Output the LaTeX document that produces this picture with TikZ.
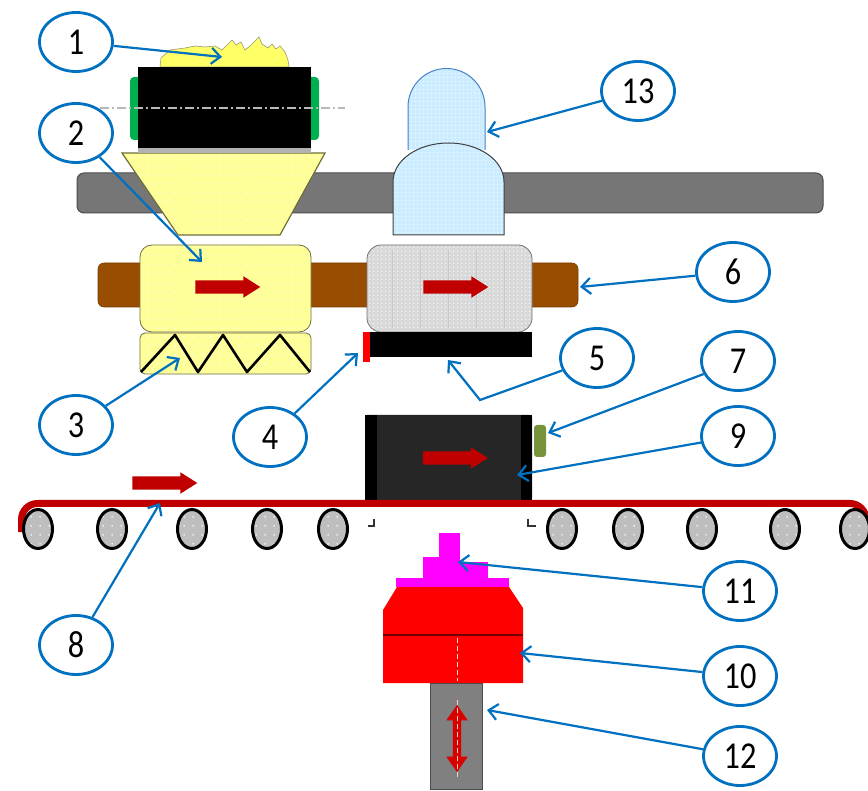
\documentclass[tikz,border=0pt]{standalone}
\usepackage{fontspec}
\newfontfamily\lblfont[FakeStretch=0.85]{Carlito}
\usetikzlibrary{shapes.geometric,shapes.arrows,arrows.meta,patterns}

% sparse and fine white dot textures
\pgfdeclarepatternformonly{sdots}{\pgfpointorigin}{\pgfqpoint{9pt}{9pt}}{\pgfqpoint{9pt}{9pt}}%
  {\pgfpathcircle{\pgfqpoint{4.5pt}{4.5pt}}{0.9pt}\pgfusepath{fill}}
\pgfdeclarepatternformonly{fdots}{\pgfpointorigin}{\pgfqpoint{3.5pt}{3.5pt}}{\pgfqpoint{3.5pt}{3.5pt}}%
  {\pgfpathcircle{\pgfqpoint{1.75pt}{1.75pt}}{0.6pt}\pgfusepath{fill}}

\definecolor{lblue}{RGB}{0,112,192}
\definecolor{pale}{RGB}{255,255,153}
\definecolor{powder}{RGB}{255,255,102}
\definecolor{olive}{RGB}{110,110,60}
\definecolor{railg}{RGB}{118,118,118}
\definecolor{shaft}{RGB}{153,77,0}
\definecolor{dred}{RGB}{192,0,0}
\definecolor{sky}{RGB}{204,236,255}
\definecolor{skyline}{RGB}{70,130,200}
\definecolor{lgray}{RGB}{217,217,217}
\definecolor{rollg}{RGB}{190,190,190}
\definecolor{capg}{RGB}{0,176,80}
\definecolor{tabg}{RGB}{119,147,60}
\definecolor{mag}{RGB}{255,0,255}
\definecolor{boxk}{RGB}{38,38,38}
\definecolor{rodg}{RGB}{128,128,128}

\tikzset{
  lbl/.style={ellipse, draw=lblue, line width=2.8pt, minimum width=73pt,
    minimum height=59pt, inner sep=0pt, text=black,
    font=\lblfont\fontsize{38}{40}\selectfont},
  lead/.style={draw=lblue, line width=2.2pt,
    -{Straight Barb[length=9pt,width=16pt]}},
  fatarrow/.style={single arrow, fill=dred, draw=none, inner xsep=0pt,
    inner ysep=6.5pt, single arrow head extend=4pt, single arrow tip angle=65,
    minimum height=65pt},
  roller/.style={ellipse, draw=black, line width=3pt, minimum width=29pt,
    minimum height=39pt, inner sep=0pt, preaction={fill=rollg},
    pattern=sdots, pattern color=white},
  yellowpart/.style={draw=olive, line width=0.8pt, preaction={fill=pale},
    pattern=sdots, pattern color=white},
  skypart/.style={line width=1pt, preaction={fill=sky},
    pattern=fdots, pattern color=white},
}

\begin{document}
\begin{tikzpicture}[x=1pt,y=-1pt]
\useasboundingbox[fill=white] (0,0) rectangle (868,791);

% ---- upper guide rail
\draw[draw=black!70, fill=railg, line width=1pt, rounded corners=7pt]
  (77,173) rectangle (823,213);

% ---- feed hopper
\draw[yellowpart, line width=1.2pt] (122,153) -- (325,153) -- (280,235) -- (178,235) -- cycle;

% ---- powder on top of the feed roller
\draw[draw=olive!70, fill=powder, line width=0.6pt]
  (160,67) -- (161,58) -- (170,50) -- (185,48) -- (195,46) -- (205,47) -- (215,46)
  -- (222,50) -- (228,44) -- (232,40) -- (236,45) -- (241,42) -- (245,50)
  -- (250,46) -- (255,41) -- (259,37) -- (262,44) -- (268,48) -- (272,44)
  -- (276,49) -- (280,46) -- (285,52) -- (288,60) -- (289,67) -- cycle;

% ---- feed roller with end caps
\fill[capg, rounded corners=4pt] (130,77) rectangle (142,140);
\fill[capg, rounded corners=4pt] (307,77) rectangle (319,140);
\fill[black] (138,67) rectangle (311,148);
\fill[gray!60] (138,148) rectangle (311,153);
\draw[gray!55, line width=1.2pt, dash pattern=on 9pt off 3pt on 2pt off 3pt]
  (100,108) -- (345,108);

% ---- transport shaft
\draw[draw=shaft!80!black, fill=shaft, line width=0.6pt, rounded corners=6pt]
  (98,263) rectangle (578,307);

% ---- filling shoe and its base
\draw[yellowpart, rounded corners=12pt] (140,245) rectangle (311,332);
\draw[yellowpart, rounded corners=5pt] (140,333) rectangle (311,374);
\draw[black, line width=2.6pt, line join=round]
  (141,372) -- (175,335) -- (198,372) -- (223,335) -- (247,372) -- (280,335) -- (310,372);

% ---- pressing shoe
\draw[draw=black!55, line width=0.8pt, preaction={fill=lgray}, pattern=fdots,
  pattern color=white, rounded corners=14pt] (367,245) rectangle (532,332);
\foreach \xx in {392,420,448,476,504}
  \draw[gray!45, line width=0.4pt] (\xx,250) -- (\xx,328);
\fill[black] (370,332) rectangle (532,357);
\fill[red] (363,332) rectangle (370,362);

% ---- upper punch (two domes)
\draw[skypart, draw=skyline]
  (408,150) -- (408,107) .. controls (408,85.7) and (425.2,68.5) .. (446.5,68.5)
  .. controls (467.8,68.5) and (485,85.7) .. (485,107) -- (485,150);
\draw[skypart, draw=black!75]
  (393,235) -- (393,182) .. controls (393,160) and (418,143) .. (448.5,143)
  .. controls (479,143) and (504,160) .. (504,182) -- (504,235) -- cycle;

% ---- direction arrows on the shoes
\node[fatarrow] (a2) at (222.5,287) {};
\node[fatarrow] (a6) at (450.5,287) {};

% ---- product carrier and its tab
\fill[boxk, rounded corners=2pt] (365,415) rectangle (532,500);
\fill[black] (365,415) rectangle (377,500);
\fill[black] (521,415) rectangle (532,500);
\node[fatarrow] (a9) at (450,458) {};
\fill[tabg, rounded corners=3pt] (534,425) rectangle (546,457);

% ---- conveyor belt, its direction and rollers
\node[fatarrow] (a8) at (159.5,483) {};
\draw[dred, line width=7pt, rounded corners=16pt]
  (21.5,532) -- (21.5,503.5) -- (866,503.5) -- (866,540);
\foreach \xx [count=\i] in {38,112,192,267,333,562,628,702,785,855}
  \node[roller] (r\i) at (\xx,529) {};
\draw[black!80, line width=1.2pt] (368,526) -- (374,526) -- (374,519);
\draw[black!80, line width=1.2pt] (528,519) -- (528,526) -- (536,526);

% ---- lower punch head
\fill[red] (397,587) -- (509,587) -- (523,608) -- (523,683) -- (383,683) -- (383,610) -- cycle;
\draw[red!45!black, line width=1.4pt] (383,635) -- (523,635);
\fill[mag] (396,578) rectangle (509,587);
\fill[mag] (439,533) rectangle (460,578);
\fill[mag] (423,557) rectangle (439,578);
\fill[mag] (460,562) rectangle (488,578);
\draw[white!85!red, line width=0.7pt, dash pattern=on 5pt off 3pt] (457,638) -- (457,681);

% ---- lifting rod
\draw[draw=black!70, fill=rodg, line width=1pt] (430,683) rectangle (482,789);
\node[double arrow, fill=red!85!black, draw=none, rotate=90, inner xsep=0pt,
  inner ysep=4pt, double arrow head extend=6.5pt, double arrow tip angle=70,
  minimum height=67pt] (lift) at (457,738.5) {};
\draw[white!80!red, line width=0.6pt, dash pattern=on 5pt off 3pt] (457,700) -- (457,778);

% ---- labels
\node[lbl] (e1)  at (76,42)   {1};
\node[lbl] (e2)  at (76,133)  {2};
\node[lbl] (e3)  at (76,425)  {3};
\node[lbl] (e4)  at (270,437) {4};
\node[lbl] (e5)  at (597,358) {5};
\node[lbl] (e6)  at (733,272) {6};
\node[lbl] (e7)  at (738,361) {7};
\node[lbl] (e8)  at (76,645)  {8};
\node[lbl] (e9)  at (738,436) {9};
\node[lbl] (e10) at (740,676) {10};
\node[lbl] (e11) at (740,591) {11};
\node[lbl] (e12) at (740,756) {12};
\node[lbl] (e13) at (638,91)  {13};

% ---- leader end points
\coordinate (t1)  at (222,57);
\coordinate (t2)  at (202,262);
\coordinate (t3)  at (180,358);
\coordinate (t4)  at (358,353);
\coordinate (k5)  at (480,400);
\coordinate (t5)  at (448,360);
\coordinate (t6)  at (580,287);
\coordinate (t7)  at (548,433);
\coordinate (t8)  at (160,503);
\coordinate (t9)  at (517,475);
\coordinate (t10) at (520,653);
\coordinate (t11) at (458,562);
\coordinate (t12) at (487,710);
\coordinate (t13) at (487,132);

% ---- leaders
\draw[lead] (e1) -- (t1);
\draw[lead] (e2) -- (t2);
\draw[lead] (e3) -- (t3);
\draw[lead] (e4) -- (t4);
\draw[lead] (e5) -- (k5) -- (t5);
\draw[lead] (e6) -- (t6);
\draw[lead] (e7) -- (t7);
\draw[lead] (e8) -- (t8);
\draw[lead] (e9) -- (t9);
\draw[lead] (e10) -- (t10);
\draw[lead] (e11) -- (t11);
\draw[lead] (e12) -- (t12);
\draw[lead] (e13) -- (t13);
\end{tikzpicture}
\end{document}
